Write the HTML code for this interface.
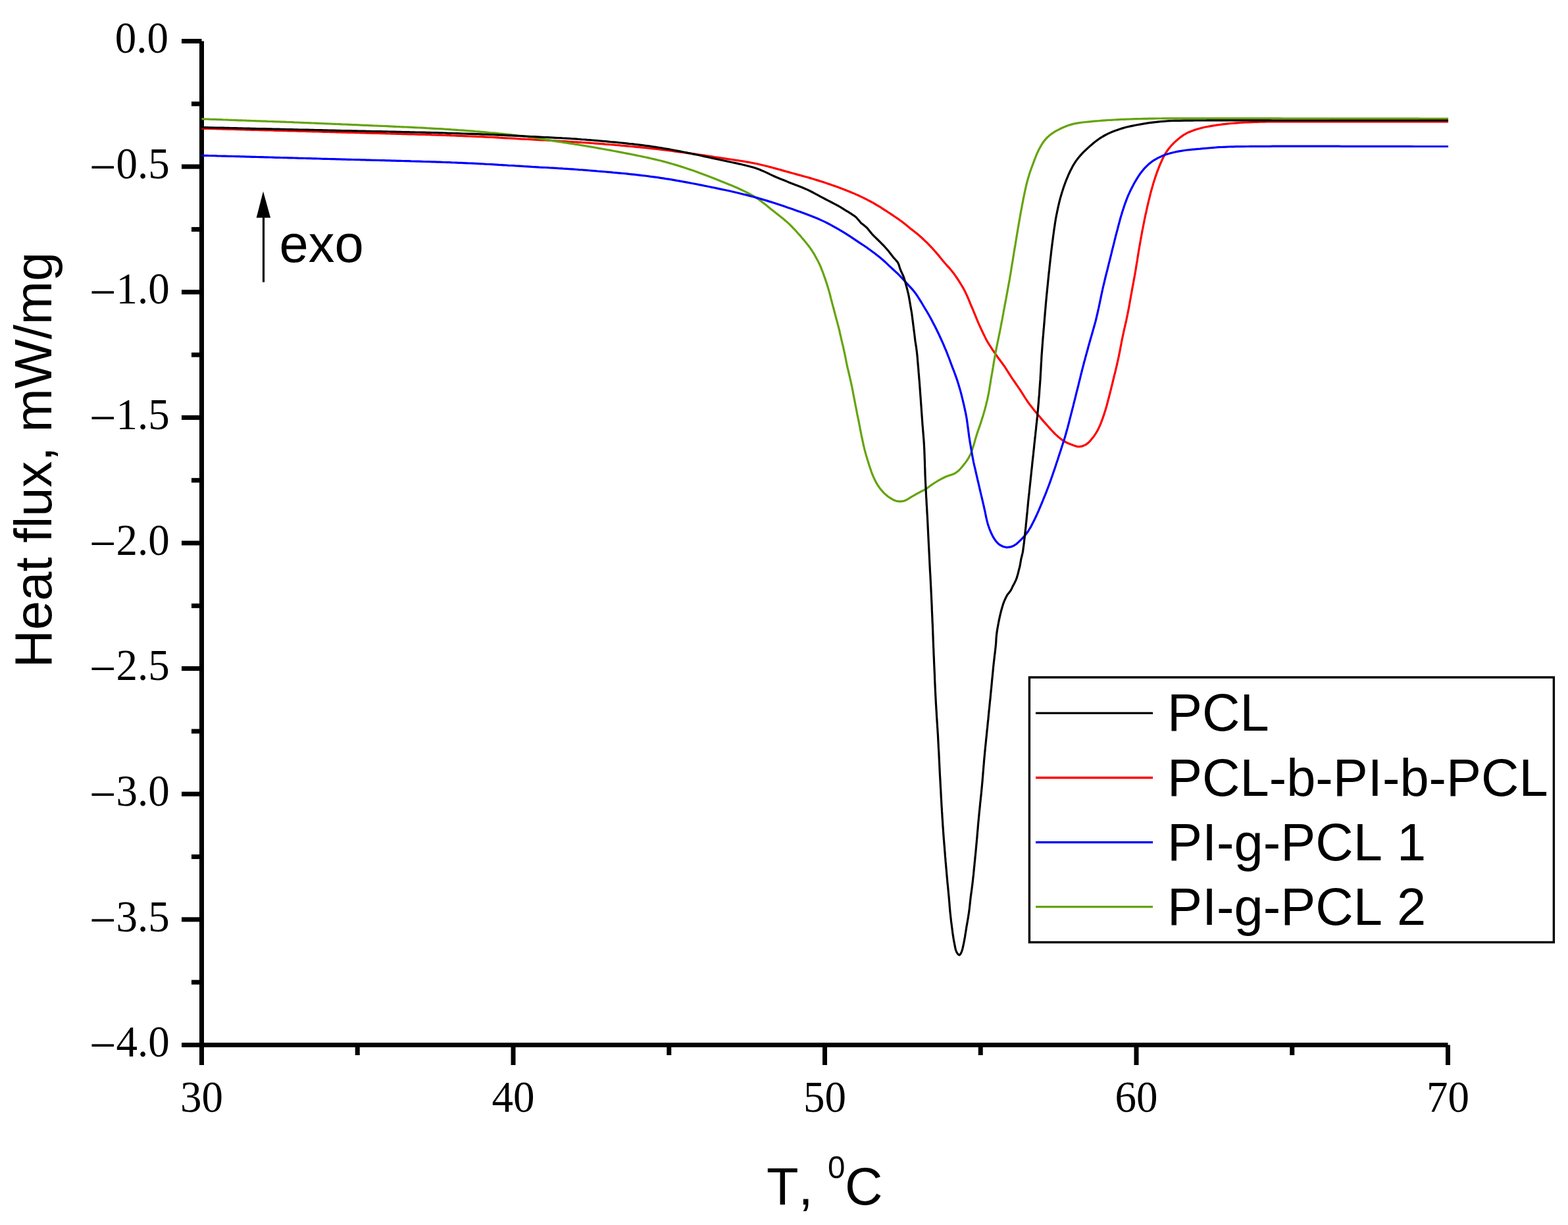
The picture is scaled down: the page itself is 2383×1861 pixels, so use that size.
<!DOCTYPE html>
<html><head><meta charset="utf-8"><title>DSC curves</title>
<style>html,body{margin:0;padding:0;background:#fff;overflow:hidden}svg{display:block;font-kerning:none}</style>
</head><body>
<svg width="2383" height="1861" viewBox="0 0 2383 1861">
<rect width="2383" height="1861" fill="#fff"/>
<line x1="306.5" y1="62.5" x2="306.5" y2="1618.0" stroke="#000" stroke-width="7"/>
<line x1="276.0" y1="1587.5" x2="2200.5" y2="1587.5" stroke="#000" stroke-width="7"/>
<line x1="276.0" y1="62.50" x2="306.5" y2="62.50" stroke="#000" stroke-width="7"/>
<line x1="291.0" y1="157.81" x2="306.5" y2="157.81" stroke="#000" stroke-width="7"/>
<line x1="276.0" y1="253.12" x2="306.5" y2="253.12" stroke="#000" stroke-width="7"/>
<line x1="291.0" y1="348.44" x2="306.5" y2="348.44" stroke="#000" stroke-width="7"/>
<line x1="276.0" y1="443.75" x2="306.5" y2="443.75" stroke="#000" stroke-width="7"/>
<line x1="291.0" y1="539.06" x2="306.5" y2="539.06" stroke="#000" stroke-width="7"/>
<line x1="276.0" y1="634.38" x2="306.5" y2="634.38" stroke="#000" stroke-width="7"/>
<line x1="291.0" y1="729.69" x2="306.5" y2="729.69" stroke="#000" stroke-width="7"/>
<line x1="276.0" y1="825.00" x2="306.5" y2="825.00" stroke="#000" stroke-width="7"/>
<line x1="291.0" y1="920.31" x2="306.5" y2="920.31" stroke="#000" stroke-width="7"/>
<line x1="276.0" y1="1015.62" x2="306.5" y2="1015.62" stroke="#000" stroke-width="7"/>
<line x1="291.0" y1="1110.94" x2="306.5" y2="1110.94" stroke="#000" stroke-width="7"/>
<line x1="276.0" y1="1206.25" x2="306.5" y2="1206.25" stroke="#000" stroke-width="7"/>
<line x1="291.0" y1="1301.56" x2="306.5" y2="1301.56" stroke="#000" stroke-width="7"/>
<line x1="276.0" y1="1396.88" x2="306.5" y2="1396.88" stroke="#000" stroke-width="7"/>
<line x1="291.0" y1="1492.19" x2="306.5" y2="1492.19" stroke="#000" stroke-width="7"/>
<line x1="276.0" y1="1587.50" x2="306.5" y2="1587.50" stroke="#000" stroke-width="7"/>
<line x1="306.50" y1="1587.5" x2="306.50" y2="1618.0" stroke="#000" stroke-width="7"/>
<line x1="543.25" y1="1587.5" x2="543.25" y2="1603.0" stroke="#000" stroke-width="7"/>
<line x1="780.00" y1="1587.5" x2="780.00" y2="1618.0" stroke="#000" stroke-width="7"/>
<line x1="1016.75" y1="1587.5" x2="1016.75" y2="1603.0" stroke="#000" stroke-width="7"/>
<line x1="1253.50" y1="1587.5" x2="1253.50" y2="1618.0" stroke="#000" stroke-width="7"/>
<line x1="1490.25" y1="1587.5" x2="1490.25" y2="1603.0" stroke="#000" stroke-width="7"/>
<line x1="1727.00" y1="1587.5" x2="1727.00" y2="1618.0" stroke="#000" stroke-width="7"/>
<line x1="1963.75" y1="1587.5" x2="1963.75" y2="1603.0" stroke="#000" stroke-width="7"/>
<line x1="2200.50" y1="1587.5" x2="2200.50" y2="1618.0" stroke="#000" stroke-width="7"/>
<path d="M306.5,195.2 L310.5,195.3 L314.6,195.4 L318.6,195.5 L322.6,195.6 L326.6,195.7 L330.7,195.9 L334.7,196.0 L338.7,196.1 L342.7,196.2 L346.8,196.3 L350.8,196.4 L354.8,196.5 L358.8,196.6 L362.8,196.7 L366.9,196.8 L370.9,196.9 L374.9,197.1 L378.9,197.2 L382.9,197.3 L387.0,197.4 L391.0,197.5 L395.0,197.6 L399.0,197.7 L403.1,197.8 L407.1,197.9 L411.1,198.0 L415.1,198.1 L419.1,198.3 L423.2,198.4 L427.2,198.5 L431.2,198.6 L435.3,198.7 L439.3,198.8 L443.3,198.9 L447.4,199.0 L451.4,199.1 L455.4,199.3 L459.5,199.4 L463.5,199.5 L467.6,199.6 L471.6,199.7 L475.7,199.8 L479.7,199.9 L483.8,200.0 L487.8,200.2 L491.9,200.3 L495.9,200.4 L500.0,200.5 L504.0,200.6 L508.0,200.7 L512.0,200.8 L516.1,201.0 L520.2,201.1 L524.3,201.2 L528.4,201.3 L532.6,201.4 L536.7,201.5 L540.9,201.6 L545.1,201.7 L549.3,201.8 L553.5,202.0 L557.7,202.1 L561.9,202.2 L566.1,202.3 L570.4,202.4 L574.6,202.5 L578.8,202.6 L583.1,202.7 L587.3,202.9 L591.5,203.0 L595.7,203.1 L599.9,203.2 L604.1,203.3 L608.3,203.4 L612.4,203.6 L616.6,203.7 L620.7,203.8 L624.8,203.9 L628.9,204.0 L632.9,204.1 L637.0,204.3 L641.0,204.4 L644.9,204.5 L648.9,204.6 L652.8,204.7 L656.7,204.9 L660.5,205.0 L664.3,205.1 L668.1,205.2 L671.8,205.4 L675.5,205.5 L679.2,205.6 L682.8,205.7 L686.3,205.9 L689.8,206.0 L693.3,206.1 L696.7,206.3 L700.0,206.4 L704.6,206.6 L709.2,206.8 L713.6,207.0 L717.9,207.2 L722.2,207.4 L726.4,207.6 L730.5,207.7 L734.5,207.9 L738.5,208.1 L742.5,208.3 L746.4,208.5 L750.2,208.7 L754.1,208.9 L757.9,209.2 L761.7,209.4 L765.4,209.6 L769.2,209.8 L773.0,210.0 L776.8,210.2 L780.6,210.4 L784.4,210.6 L788.2,210.8 L792.1,211.1 L796.0,211.3 L800.0,211.5 L804.0,211.7 L808.0,211.9 L812.0,212.2 L816.0,212.4 L820.0,212.6 L824.0,212.8 L828.0,213.0 L832.0,213.2 L836.0,213.5 L840.0,213.7 L844.0,213.9 L848.0,214.1 L852.0,214.4 L856.0,214.6 L860.0,214.8 L864.0,215.1 L868.0,215.3 L872.0,215.6 L876.0,215.8 L880.0,216.1 L884.0,216.4 L888.0,216.6 L892.0,216.9 L896.0,217.2 L900.0,217.5 L904.0,217.8 L908.0,218.1 L912.0,218.4 L916.0,218.7 L920.0,219.1 L924.0,219.4 L928.0,219.7 L932.0,220.0 L936.0,220.4 L940.0,220.7 L944.0,221.1 L948.0,221.4 L952.0,221.8 L956.0,222.2 L960.0,222.5 L964.0,222.9 L968.0,223.3 L972.0,223.7 L976.0,224.1 L980.0,224.5 L984.0,224.9 L988.0,225.4 L992.0,225.8 L996.0,226.2 L1000.0,226.7 L1004.0,227.2 L1008.1,227.7 L1012.2,228.2 L1016.4,228.7 L1020.6,229.2 L1024.8,229.8 L1029.0,230.3 L1033.2,230.9 L1037.4,231.5 L1041.7,232.1 L1045.9,232.6 L1050.1,233.2 L1054.3,233.8 L1058.4,234.4 L1062.5,235.0 L1066.6,235.6 L1070.6,236.2 L1074.5,236.8 L1078.4,237.4 L1082.2,237.9 L1085.9,238.5 L1089.6,239.0 L1093.2,239.6 L1096.6,240.1 L1100.0,240.6 L1104.8,241.3 L1109.3,242.0 L1113.7,242.6 L1118.0,243.3 L1122.1,243.9 L1126.1,244.5 L1130.1,245.1 L1134.0,245.8 L1137.9,246.4 L1141.9,247.2 L1145.9,248.0 L1150.0,248.8 L1154.2,249.7 L1158.4,250.7 L1162.5,251.7 L1166.7,252.8 L1170.9,253.9 L1175.0,255.0 L1179.2,256.1 L1183.4,257.3 L1187.5,258.4 L1191.7,259.6 L1195.8,260.7 L1200.0,261.9 L1203.9,263.0 L1207.7,264.0 L1211.6,265.1 L1215.4,266.1 L1219.3,267.2 L1223.1,268.2 L1227.0,269.3 L1230.8,270.4 L1234.7,271.5 L1238.5,272.7 L1242.3,273.9 L1246.2,275.1 L1250.0,276.3 L1253.9,277.6 L1257.9,278.9 L1261.9,280.3 L1265.9,281.7 L1269.9,283.1 L1273.9,284.6 L1277.9,286.1 L1281.8,287.5 L1285.6,289.0 L1289.4,290.5 L1293.1,292.0 L1296.6,293.4 L1300.0,294.9 L1304.2,296.7 L1308.1,298.6 L1311.9,300.4 L1315.6,302.2 L1319.2,304.1 L1322.8,306.0 L1326.4,307.9 L1330.0,310.0 L1333.9,312.3 L1337.9,314.7 L1341.9,317.3 L1345.9,319.9 L1349.8,322.5 L1353.5,324.9 L1356.9,327.2 L1360.0,329.3 L1364.3,332.2 L1368.0,334.8 L1371.7,337.5 L1375.6,340.6 L1379.5,343.7 L1383.4,346.9 L1387.3,350.0 L1391.2,353.0 L1395.2,356.3 L1398.7,359.3 L1402.2,362.5 L1405.7,365.8 L1409.2,369.2 L1412.1,372.1 L1415.0,375.2 L1417.8,378.2 L1420.6,381.3 L1423.3,384.4 L1426.3,387.9 L1429.2,391.4 L1432.0,394.9 L1435.0,398.5 L1437.8,401.7 L1440.6,404.9 L1443.6,408.2 L1446.4,411.5 L1449.1,414.9 L1451.6,418.4 L1454.1,422.0 L1456.5,425.6 L1458.7,429.1 L1460.8,432.5 L1463.4,436.9 L1465.7,441.0 L1467.9,445.4 L1469.7,449.4 L1471.5,453.5 L1473.2,457.7 L1474.9,461.8 L1476.9,466.5 L1478.9,471.2 L1480.8,475.8 L1482.8,480.6 L1484.7,485.4 L1486.6,489.9 L1488.8,494.8 L1491.1,499.9 L1492.7,503.3 L1494.5,507.0 L1496.4,510.9 L1498.4,514.9 L1500.5,518.7 L1502.9,522.7 L1505.4,526.7 L1508.1,530.8 L1510.7,534.7 L1513.4,538.6 L1516.0,542.2 L1518.6,545.8 L1521.2,549.2 L1523.8,552.7 L1526.3,556.2 L1529.0,560.3 L1531.6,564.4 L1534.1,568.4 L1536.8,572.6 L1539.3,576.3 L1541.9,580.0 L1544.5,583.8 L1547.1,587.6 L1549.7,591.4 L1552.3,595.4 L1554.8,599.4 L1557.4,603.5 L1560.0,607.5 L1562.6,611.3 L1565.1,614.7 L1567.7,618.0 L1570.2,621.3 L1572.8,624.5 L1575.5,627.7 L1578.3,631.0 L1581.1,634.3 L1583.9,637.6 L1586.7,640.9 L1589.6,644.1 L1592.4,647.2 L1595.2,650.4 L1598.0,653.5 L1600.8,656.5 L1603.6,659.3 L1606.8,662.3 L1610.0,665.1 L1613.2,667.6 L1616.5,669.9 L1620.3,672.0 L1624.1,673.8 L1628.0,675.3 L1631.9,676.8 L1635.8,678.1 L1639.6,678.6 L1645.0,677.8 L1650.1,675.6 L1653.8,672.8 L1657.4,669.1 L1660.7,665.1 L1663.1,661.9 L1665.3,658.5 L1667.5,654.9 L1669.5,651.0 L1671.1,647.6 L1672.7,643.9 L1674.1,640.1 L1675.6,636.1 L1677.0,632.1 L1678.3,628.2 L1679.6,624.2 L1680.8,620.1 L1682.0,616.0 L1683.1,611.9 L1684.2,607.7 L1685.3,603.5 L1686.3,599.6 L1687.3,595.6 L1688.3,591.6 L1689.3,587.6 L1690.3,583.6 L1691.3,579.5 L1692.3,575.4 L1693.3,571.2 L1694.4,567.0 L1695.4,562.8 L1696.4,558.5 L1697.4,554.3 L1698.4,549.9 L1699.4,545.5 L1700.3,541.2 L1701.2,536.9 L1702.1,532.4 L1702.9,528.0 L1703.8,523.5 L1704.6,519.0 L1705.5,514.6 L1706.4,510.3 L1707.3,506.3 L1708.1,502.4 L1709.0,498.5 L1709.9,494.6 L1710.8,490.7 L1711.7,486.8 L1712.5,482.8 L1713.4,478.7 L1714.2,474.5 L1715.1,470.2 L1715.9,465.8 L1716.7,461.3 L1717.5,456.8 L1718.3,452.4 L1719.0,448.1 L1719.8,444.0 L1720.5,440.0 L1721.3,435.6 L1722.1,431.6 L1722.8,427.7 L1723.5,423.8 L1724.3,419.6 L1725.1,415.0 L1725.7,411.6 L1726.3,407.9 L1726.9,404.0 L1727.6,400.0 L1728.3,395.9 L1728.9,391.7 L1729.6,387.4 L1730.3,383.0 L1731.0,378.7 L1731.8,374.4 L1732.5,370.2 L1733.2,366.2 L1733.9,362.2 L1734.7,358.0 L1735.4,353.9 L1736.2,349.8 L1737.0,345.7 L1737.8,341.7 L1738.6,337.7 L1739.4,333.7 L1740.2,329.8 L1741.0,325.9 L1741.9,322.1 L1742.7,318.3 L1743.6,314.2 L1744.6,310.1 L1745.5,306.1 L1746.5,302.1 L1747.5,298.2 L1748.4,294.3 L1749.4,290.5 L1750.5,286.8 L1751.5,283.1 L1752.9,278.4 L1754.3,273.9 L1755.7,269.5 L1757.2,265.2 L1758.7,260.9 L1760.3,256.7 L1761.9,252.7 L1763.6,248.7 L1765.3,244.8 L1767.0,240.9 L1768.9,237.3 L1770.8,233.9 L1773.2,230.0 L1775.7,226.5 L1778.4,223.2 L1781.4,219.8 L1784.1,217.1 L1787.2,214.2 L1790.4,211.4 L1793.7,208.8 L1796.9,206.4 L1800.0,204.3 L1804.5,201.8 L1808.9,200.0 L1813.3,198.3 L1817.6,196.8 L1821.9,195.5 L1826.7,194.2 L1830.6,193.3 L1834.9,192.5 L1839.5,191.7 L1844.1,190.9 L1848.8,190.2 L1853.4,189.5 L1857.8,188.9 L1862.3,188.4 L1866.7,187.9 L1871.1,187.5 L1875.6,187.2 L1880.0,186.8 L1884.4,186.5 L1888.7,186.2 L1893.0,186.0 L1897.4,185.8 L1902.0,185.6 L1906.8,185.4 L1910.5,185.3 L1914.2,185.2 L1917.9,185.1 L1921.6,185.1 L1925.5,185.0 L1929.7,185.0 L1934.1,185.0 L1938.9,185.0 L1944.2,184.9 L1950.0,184.9 L1952.4,184.9 L1955.0,184.9 L1957.6,184.9 L1960.3,184.9 L1963.2,184.8 L1966.1,184.8 L1969.1,184.8 L1972.2,184.8 L1975.4,184.8 L1978.7,184.8 L1982.1,184.8 L1985.5,184.8 L1989.0,184.8 L1992.6,184.8 L1996.3,184.8 L2000.0,184.8 L2003.8,184.8 L2007.7,184.8 L2011.6,184.8 L2015.6,184.8 L2019.6,184.8 L2023.7,184.8 L2027.9,184.8 L2032.1,184.8 L2036.3,184.8 L2040.6,184.8 L2044.9,184.8 L2049.3,184.8 L2053.6,184.8 L2058.1,184.8 L2062.5,184.8 L2067.0,184.8 L2071.5,184.8 L2076.0,184.9 L2080.6,184.9 L2085.1,184.9 L2089.7,184.9 L2094.3,184.9 L2098.9,184.9 L2103.5,184.9 L2108.1,184.9 L2112.7,184.9 L2117.3,184.9 L2121.9,184.9 L2126.5,184.9 L2131.1,184.9 L2135.7,184.9 L2140.2,184.9 L2144.8,184.9 L2149.3,185.0 L2153.8,185.0 L2158.3,185.0 L2162.7,185.0 L2167.1,185.0 L2171.5,185.0 L2175.8,185.0 L2180.1,185.0 L2184.4,185.0 L2188.6,185.0 L2192.8,185.0 L2196.9,185.0 L2201.0,185.0" fill="none" stroke="#ff0000" stroke-width="3.2" stroke-linejoin="round"/>
<path d="M306.5,180.7 L310.5,180.9 L314.6,181.0 L318.6,181.2 L322.6,181.3 L326.6,181.4 L330.7,181.6 L334.7,181.7 L338.7,181.9 L342.7,182.0 L346.8,182.2 L350.8,182.3 L354.8,182.5 L358.8,182.6 L362.8,182.8 L366.9,182.9 L370.9,183.0 L374.9,183.2 L378.9,183.3 L382.9,183.5 L387.0,183.6 L391.0,183.8 L395.0,183.9 L399.0,184.1 L403.1,184.2 L407.1,184.4 L411.1,184.5 L415.1,184.6 L419.2,184.8 L423.2,184.9 L427.2,185.1 L431.2,185.2 L435.3,185.4 L439.3,185.5 L443.3,185.7 L447.4,185.9 L451.4,186.0 L455.4,186.2 L459.5,186.3 L463.5,186.5 L467.6,186.6 L471.6,186.8 L475.7,187.0 L479.7,187.1 L483.8,187.3 L487.8,187.5 L491.9,187.7 L495.9,187.8 L500.0,188.0 L504.0,188.2 L508.0,188.3 L512.0,188.5 L516.1,188.7 L520.2,188.9 L524.3,189.0 L528.4,189.2 L532.6,189.4 L536.7,189.6 L540.9,189.7 L545.1,189.9 L549.3,190.1 L553.5,190.3 L557.7,190.4 L561.9,190.6 L566.2,190.8 L570.4,191.0 L574.6,191.2 L578.8,191.3 L583.1,191.5 L587.3,191.7 L591.5,191.9 L595.7,192.1 L599.9,192.3 L604.1,192.5 L608.3,192.7 L612.4,192.8 L616.6,193.0 L620.7,193.2 L624.8,193.4 L628.9,193.6 L632.9,193.8 L637.0,194.0 L641.0,194.2 L645.0,194.4 L648.9,194.7 L652.8,194.9 L656.7,195.1 L660.5,195.3 L664.4,195.5 L668.1,195.7 L671.9,195.9 L675.5,196.2 L679.2,196.4 L682.8,196.6 L686.3,196.9 L689.8,197.1 L693.3,197.3 L696.7,197.6 L700.0,197.8 L704.7,198.1 L709.3,198.5 L713.9,198.9 L718.4,199.2 L722.8,199.6 L727.2,199.9 L731.6,200.3 L735.9,200.7 L740.1,201.1 L744.3,201.5 L748.5,201.8 L752.6,202.2 L756.6,202.6 L760.5,203.0 L764.4,203.4 L768.3,203.8 L772.1,204.2 L775.8,204.6 L779.4,205.0 L783.0,205.4 L786.6,205.9 L790.0,206.3 L793.4,206.7 L796.7,207.1 L800.0,207.5 L804.8,208.1 L809.4,208.8 L813.7,209.4 L817.9,210.1 L821.9,210.7 L825.9,211.4 L829.8,212.1 L833.7,212.7 L837.7,213.4 L841.7,214.1 L846.0,214.8 L850.0,215.4 L853.9,216.0 L857.8,216.6 L861.8,217.2 L865.7,217.8 L869.7,218.4 L873.7,219.1 L877.8,219.7 L882.0,220.4 L886.3,221.1 L890.8,221.8 L895.3,222.6 L900.0,223.4 L903.5,224.0 L907.1,224.7 L910.8,225.3 L914.7,226.0 L918.6,226.7 L922.7,227.5 L926.8,228.2 L931.0,229.0 L935.2,229.8 L939.5,230.6 L943.8,231.4 L948.1,232.2 L952.5,233.1 L956.8,233.9 L961.1,234.8 L965.3,235.6 L969.5,236.5 L973.7,237.3 L977.8,238.2 L981.8,239.0 L985.7,239.9 L989.4,240.7 L993.1,241.6 L996.6,242.4 L1000.0,243.2 L1004.4,244.3 L1008.7,245.4 L1012.8,246.5 L1016.7,247.6 L1020.6,248.7 L1024.3,249.8 L1028.0,250.9 L1031.6,252.0 L1035.2,253.1 L1038.9,254.3 L1042.5,255.5 L1046.2,256.7 L1050.0,258.0 L1053.9,259.3 L1057.9,260.7 L1061.9,262.2 L1065.9,263.7 L1070.0,265.2 L1074.0,266.7 L1078.0,268.3 L1081.9,269.8 L1085.8,271.3 L1089.5,272.8 L1093.1,274.2 L1096.7,275.7 L1100.0,277.0 L1104.4,278.8 L1108.6,280.5 L1112.6,282.1 L1116.4,283.7 L1120.1,285.3 L1123.8,287.0 L1127.5,288.7 L1131.4,290.6 L1135.2,292.5 L1138.9,294.5 L1142.6,296.5 L1146.3,298.7 L1150.0,301.0 L1153.6,303.4 L1157.1,306.1 L1160.7,308.8 L1164.3,311.6 L1167.9,314.5 L1171.4,317.4 L1175.0,320.3 L1178.2,322.8 L1181.3,325.3 L1184.5,327.8 L1187.7,330.3 L1190.8,332.8 L1193.9,335.4 L1197.0,338.1 L1200.0,340.9 L1203.1,344.0 L1206.3,347.3 L1209.5,350.7 L1212.6,354.2 L1215.7,357.6 L1218.5,361.0 L1221.2,364.1 L1223.6,367.0 L1226.4,370.4 L1228.9,373.5 L1231.2,376.6 L1233.5,380.0 L1235.8,383.6 L1238.1,387.4 L1240.3,391.4 L1242.5,395.4 L1244.5,399.4 L1246.3,403.2 L1247.9,407.1 L1249.4,410.9 L1250.9,414.8 L1252.3,418.7 L1253.7,422.6 L1255.0,426.4 L1256.3,430.3 L1257.5,434.2 L1258.7,438.1 L1260.1,442.9 L1261.4,447.7 L1262.6,452.6 L1263.9,457.4 L1264.9,461.3 L1265.9,465.2 L1267.0,469.0 L1268.0,472.9 L1269.0,476.8 L1270.3,481.6 L1271.6,486.4 L1272.9,491.3 L1274.2,496.1 L1275.4,500.9 L1276.5,505.8 L1277.6,510.7 L1278.7,515.5 L1279.8,520.3 L1281.0,525.1 L1282.1,530.0 L1283.2,534.8 L1284.2,539.6 L1285.2,544.5 L1286.1,549.4 L1287.1,554.2 L1288.2,559.1 L1289.4,564.0 L1290.5,568.9 L1291.6,573.5 L1292.7,578.4 L1293.8,583.1 L1294.8,588.0 L1295.7,592.3 L1296.5,596.8 L1297.4,601.4 L1298.3,606.0 L1299.2,610.7 L1300.1,615.5 L1301.1,620.2 L1302.0,625.0 L1302.9,629.8 L1303.9,634.5 L1304.9,639.3 L1305.8,644.0 L1306.7,648.5 L1307.5,652.9 L1308.4,657.4 L1309.3,662.0 L1310.2,666.1 L1311.1,670.4 L1312.0,674.6 L1313.0,678.9 L1314.0,683.1 L1315.1,687.1 L1316.2,691.1 L1317.4,695.1 L1318.6,699.1 L1319.8,703.0 L1321.3,707.8 L1322.9,712.6 L1324.5,717.3 L1326.3,721.8 L1328.0,725.8 L1329.9,729.7 L1331.8,733.4 L1333.9,737.0 L1336.8,741.2 L1340.0,745.2 L1343.3,748.8 L1346.3,751.6 L1349.5,754.2 L1352.7,756.4 L1357.2,759.2 L1362.0,761.1 L1367.8,761.8 L1373.8,761.1 L1377.7,759.5 L1381.5,757.1 L1385.5,754.6 L1389.1,752.6 L1393.0,750.4 L1396.7,748.4 L1400.0,746.6 L1403.5,744.8 L1407.0,743.0 L1410.9,740.3 L1415.1,737.1 L1419.6,734.0 L1422.9,732.0 L1426.4,729.9 L1430.0,727.9 L1433.7,726.0 L1437.2,724.3 L1441.3,722.7 L1445.4,721.4 L1449.4,720.0 L1453.0,718.1 L1456.8,715.1 L1460.2,711.5 L1463.5,707.6 L1466.3,704.1 L1469.0,700.4 L1471.6,696.4 L1474.1,691.8 L1475.7,688.3 L1477.1,684.4 L1478.5,680.2 L1479.9,675.8 L1481.2,671.4 L1482.4,666.9 L1483.7,662.7 L1485.0,658.6 L1486.5,654.0 L1488.1,649.6 L1489.6,645.2 L1491.0,640.9 L1492.4,636.6 L1493.8,632.2 L1495.1,627.9 L1496.3,623.6 L1497.5,619.3 L1498.6,614.9 L1499.7,610.4 L1500.8,605.8 L1501.7,601.7 L1502.5,597.4 L1503.3,593.0 L1504.0,588.6 L1504.8,584.1 L1505.5,579.6 L1506.2,575.1 L1507.0,570.7 L1507.8,566.3 L1508.5,561.9 L1509.3,557.5 L1510.0,553.1 L1510.7,548.7 L1511.5,544.3 L1512.3,539.9 L1513.1,535.5 L1513.9,531.1 L1514.8,526.7 L1515.7,522.3 L1516.6,517.9 L1517.5,513.5 L1518.4,509.1 L1519.3,504.7 L1520.2,500.3 L1521.0,496.3 L1521.7,492.3 L1522.5,488.2 L1523.3,484.2 L1524.0,480.1 L1524.8,476.1 L1525.5,472.0 L1526.3,468.0 L1527.0,464.0 L1527.8,459.6 L1528.7,455.2 L1529.5,450.8 L1530.3,446.5 L1531.1,442.1 L1531.9,437.7 L1532.7,433.4 L1533.5,429.0 L1534.3,424.6 L1535.0,420.2 L1535.8,415.8 L1536.5,411.4 L1537.2,407.0 L1537.9,402.6 L1538.7,398.2 L1539.4,393.8 L1540.1,389.4 L1540.8,385.1 L1541.5,380.8 L1542.2,376.4 L1543.0,372.1 L1543.7,367.7 L1544.4,363.2 L1545.2,358.6 L1545.8,354.8 L1546.5,350.9 L1547.1,347.0 L1547.8,343.0 L1548.5,339.0 L1549.2,335.0 L1549.9,330.9 L1550.6,326.9 L1551.3,322.9 L1552.1,318.9 L1552.8,315.0 L1553.6,310.8 L1554.4,306.6 L1555.2,302.4 L1556.1,298.2 L1556.9,294.0 L1557.8,289.8 L1558.7,285.8 L1559.6,281.8 L1560.5,278.0 L1561.5,274.3 L1562.9,269.5 L1564.3,264.9 L1565.7,260.5 L1567.2,256.2 L1568.8,252.0 L1570.3,247.9 L1572.0,243.4 L1573.7,239.0 L1575.4,234.7 L1577.2,230.7 L1579.1,226.8 L1581.2,223.0 L1583.3,219.3 L1585.5,216.0 L1587.9,212.8 L1591.1,209.3 L1594.6,206.1 L1598.5,203.1 L1602.1,200.7 L1606.0,198.4 L1610.1,196.3 L1614.3,194.3 L1618.5,192.5 L1622.7,190.8 L1627.2,189.4 L1631.9,188.1 L1635.9,187.3 L1640.1,186.6 L1644.5,186.0 L1649.0,185.5 L1653.6,185.1 L1658.3,184.6 L1662.4,184.2 L1666.5,183.8 L1670.8,183.5 L1675.1,183.1 L1679.5,182.8 L1684.0,182.5 L1688.6,182.3 L1693.4,182.0 L1697.1,181.8 L1700.9,181.6 L1704.8,181.4 L1708.8,181.3 L1712.9,181.1 L1717.0,181.0 L1721.2,180.8 L1725.4,180.7 L1729.6,180.6 L1733.8,180.5 L1737.9,180.4 L1742.1,180.3 L1746.2,180.2 L1750.2,180.1 L1753.9,180.1 L1757.6,180.0 L1761.1,180.0 L1764.6,180.0 L1768.1,179.9 L1771.8,179.9 L1775.6,179.9 L1779.7,179.9 L1784.2,179.9 L1789.0,179.9 L1794.2,179.9 L1800.0,179.9 L1802.2,179.9 L1804.4,179.9 L1806.8,179.9 L1809.2,179.9 L1811.7,179.9 L1814.2,179.9 L1816.8,179.9 L1819.5,179.9 L1822.2,179.9 L1825.0,179.9 L1827.9,179.9 L1830.8,179.9 L1833.8,179.9 L1836.9,179.9 L1840.0,179.9 L1843.2,179.9 L1846.4,179.9 L1849.7,179.9 L1853.0,179.9 L1856.4,179.9 L1859.8,179.9 L1863.3,179.9 L1866.9,179.9 L1870.5,179.9 L1874.1,179.9 L1877.8,179.9 L1881.5,179.9 L1885.3,179.9 L1889.1,179.9 L1893.0,179.9 L1896.9,179.9 L1900.8,179.9 L1904.8,179.9 L1908.8,179.9 L1912.8,179.9 L1916.9,179.9 L1921.1,179.9 L1925.2,179.9 L1929.4,179.9 L1933.6,179.9 L1937.9,179.9 L1942.1,179.9 L1946.4,179.9 L1950.8,180.0 L1955.1,180.0 L1959.5,180.0 L1963.9,180.0 L1968.3,180.0 L1972.8,180.0 L1977.3,180.0 L1981.7,180.0 L1986.2,180.0 L1990.8,180.0 L1995.3,180.0 L1999.8,180.0 L2004.4,180.0 L2009.0,180.0 L2013.6,180.0 L2018.1,180.0 L2022.7,180.1 L2027.4,180.1 L2032.0,180.1 L2036.6,180.1 L2041.2,180.1 L2045.8,180.1 L2050.5,180.1 L2055.1,180.1 L2059.7,180.1 L2064.4,180.1 L2069.0,180.1 L2073.6,180.1 L2078.2,180.1 L2082.8,180.1 L2087.4,180.2 L2092.0,180.2 L2096.6,180.2 L2101.2,180.2 L2105.8,180.2 L2110.3,180.2 L2114.8,180.2 L2119.4,180.2 L2123.9,180.2 L2128.4,180.2 L2132.8,180.2 L2137.3,180.2 L2141.7,180.2 L2146.1,180.2 L2150.5,180.2 L2154.9,180.2 L2159.2,180.3 L2163.5,180.3 L2167.8,180.3 L2172.1,180.3 L2176.3,180.3 L2180.5,180.3 L2184.7,180.3 L2188.8,180.3 L2192.9,180.3 L2197.0,180.3 L2201.0,180.3" fill="none" stroke="#64a40e" stroke-width="3.2" stroke-linejoin="round"/>
<path d="M306.5,236.2 L310.5,236.3 L314.6,236.4 L318.6,236.5 L322.6,236.6 L326.6,236.7 L330.7,236.9 L334.7,237.0 L338.7,237.1 L342.7,237.2 L346.8,237.3 L350.8,237.4 L354.8,237.5 L358.8,237.6 L362.8,237.7 L366.9,237.8 L370.9,237.9 L374.9,238.1 L378.9,238.2 L382.9,238.3 L387.0,238.4 L391.0,238.5 L395.0,238.6 L399.0,238.7 L403.1,238.8 L407.1,238.9 L411.1,239.0 L415.1,239.1 L419.1,239.3 L423.2,239.4 L427.2,239.5 L431.2,239.6 L435.3,239.7 L439.3,239.8 L443.3,239.9 L447.4,240.0 L451.4,240.1 L455.4,240.3 L459.5,240.4 L463.5,240.5 L467.6,240.6 L471.6,240.7 L475.7,240.8 L479.7,240.9 L483.8,241.0 L487.8,241.2 L491.9,241.3 L495.9,241.4 L500.0,241.5 L504.0,241.6 L508.0,241.7 L512.0,241.8 L516.1,241.9 L520.2,242.1 L524.3,242.2 L528.4,242.3 L532.6,242.4 L536.7,242.5 L540.9,242.6 L545.1,242.7 L549.3,242.8 L553.5,242.9 L557.7,243.1 L561.9,243.2 L566.1,243.3 L570.4,243.4 L574.6,243.5 L578.8,243.6 L583.1,243.7 L587.3,243.8 L591.5,243.9 L595.7,244.1 L599.9,244.2 L604.1,244.3 L608.3,244.4 L612.4,244.5 L616.6,244.6 L620.7,244.7 L624.8,244.9 L628.9,245.0 L632.9,245.1 L637.0,245.2 L641.0,245.3 L644.9,245.5 L648.9,245.6 L652.8,245.7 L656.7,245.8 L660.5,245.9 L664.3,246.1 L668.1,246.2 L671.8,246.3 L675.5,246.5 L679.2,246.6 L682.8,246.7 L686.3,246.9 L689.8,247.0 L693.3,247.1 L696.7,247.3 L700.0,247.4 L704.6,247.6 L709.2,247.8 L713.6,248.0 L717.9,248.2 L722.2,248.4 L726.4,248.6 L730.5,248.8 L734.5,249.0 L738.5,249.3 L742.5,249.5 L746.4,249.7 L750.2,249.9 L754.1,250.1 L757.9,250.4 L761.7,250.6 L765.4,250.8 L769.2,251.0 L773.0,251.3 L776.8,251.5 L780.6,251.7 L784.4,252.0 L788.2,252.2 L792.1,252.4 L796.0,252.7 L800.0,252.9 L804.0,253.1 L808.0,253.4 L812.0,253.6 L816.0,253.8 L820.0,254.1 L824.0,254.3 L828.0,254.5 L832.0,254.7 L836.0,255.0 L840.0,255.2 L844.0,255.4 L848.0,255.7 L852.0,255.9 L856.0,256.2 L860.0,256.4 L864.0,256.7 L868.0,256.9 L872.0,257.2 L876.0,257.5 L880.0,257.8 L884.0,258.0 L888.0,258.3 L892.0,258.7 L896.0,259.0 L900.0,259.3 L904.0,259.6 L908.0,260.0 L912.0,260.3 L916.0,260.7 L920.0,261.0 L924.0,261.3 L928.0,261.7 L932.0,262.1 L936.0,262.4 L940.0,262.8 L944.0,263.2 L948.0,263.5 L952.0,263.9 L956.0,264.4 L960.0,264.8 L964.0,265.2 L968.0,265.6 L972.0,266.1 L976.0,266.6 L980.0,267.0 L984.0,267.5 L988.0,268.1 L992.0,268.6 L996.0,269.1 L1000.0,269.7 L1004.0,270.3 L1008.1,270.9 L1012.2,271.6 L1016.4,272.2 L1020.6,272.9 L1024.8,273.6 L1029.0,274.4 L1033.3,275.1 L1037.5,275.9 L1041.7,276.6 L1045.9,277.4 L1050.1,278.2 L1054.3,279.0 L1058.4,279.8 L1062.5,280.6 L1066.6,281.4 L1070.6,282.2 L1074.5,283.0 L1078.4,283.8 L1082.2,284.6 L1086.0,285.3 L1089.6,286.1 L1093.2,286.9 L1096.6,287.6 L1100.0,288.3 L1104.8,289.3 L1109.4,290.3 L1113.7,291.3 L1118.0,292.3 L1122.1,293.2 L1126.1,294.2 L1130.1,295.2 L1134.0,296.1 L1137.9,297.1 L1141.9,298.2 L1145.9,299.3 L1150.0,300.4 L1153.9,301.5 L1157.7,302.6 L1161.6,303.7 L1165.4,304.9 L1169.3,306.1 L1173.1,307.3 L1177.0,308.5 L1180.8,309.7 L1184.7,311.0 L1188.5,312.3 L1192.3,313.6 L1196.2,314.9 L1200.0,316.2 L1203.9,317.6 L1207.9,319.0 L1211.9,320.4 L1215.9,321.8 L1219.9,323.3 L1223.9,324.8 L1227.9,326.3 L1231.8,327.8 L1235.6,329.3 L1239.4,330.8 L1243.1,332.3 L1246.6,333.9 L1250.0,335.4 L1254.3,337.4 L1258.4,339.5 L1262.5,341.6 L1266.4,343.8 L1270.1,345.9 L1273.7,347.9 L1277.0,349.8 L1280.0,351.6 L1284.5,354.4 L1288.4,356.9 L1292.3,359.4 L1296.4,362.1 L1300.5,364.9 L1304.6,367.6 L1308.7,370.3 L1312.8,373.0 L1316.9,375.8 L1321.0,378.7 L1325.1,381.7 L1329.2,384.8 L1333.4,388.0 L1337.5,391.3 L1341.6,394.7 L1344.7,397.5 L1347.8,400.4 L1350.8,403.3 L1353.9,406.2 L1357.0,409.0 L1360.1,411.9 L1363.2,414.7 L1366.2,417.7 L1369.3,420.9 L1372.4,424.1 L1375.5,427.5 L1378.5,430.8 L1381.7,434.3 L1385.0,437.9 L1388.1,441.4 L1390.8,444.8 L1394.1,449.5 L1397.0,454.1 L1399.4,457.9 L1401.7,461.8 L1404.1,465.8 L1406.4,469.7 L1408.8,473.5 L1411.1,477.5 L1413.5,481.7 L1415.8,486.0 L1418.1,490.4 L1420.5,495.0 L1422.9,499.7 L1425.2,504.5 L1427.0,508.2 L1428.7,512.0 L1430.5,515.8 L1432.2,519.7 L1434.0,523.7 L1435.7,527.8 L1437.5,531.9 L1439.2,536.1 L1440.6,539.8 L1442.1,543.5 L1443.5,547.3 L1444.9,551.1 L1446.3,554.9 L1448.1,559.6 L1449.9,564.2 L1451.6,568.9 L1453.3,573.6 L1454.9,578.3 L1456.4,583.0 L1457.8,587.7 L1459.2,592.4 L1460.5,597.1 L1461.6,601.7 L1462.8,606.4 L1463.9,611.2 L1464.9,615.2 L1465.8,619.3 L1466.7,623.4 L1467.6,627.7 L1468.5,632.3 L1469.2,636.3 L1469.8,640.4 L1470.4,644.8 L1471.0,649.3 L1471.6,653.8 L1472.2,658.4 L1472.8,663.0 L1473.5,667.4 L1474.2,671.9 L1475.0,676.6 L1475.8,681.3 L1476.6,686.0 L1477.4,690.6 L1478.2,694.9 L1479.0,699.0 L1479.7,702.6 L1480.8,707.5 L1481.8,711.7 L1482.9,716.4 L1483.8,720.3 L1484.8,724.6 L1485.8,729.1 L1486.9,733.7 L1488.0,738.3 L1489.0,742.8 L1490.0,747.2 L1491.0,751.5 L1492.1,755.8 L1493.1,760.2 L1494.1,764.6 L1495.2,769.1 L1496.1,773.3 L1497.1,777.7 L1498.0,782.2 L1498.9,786.6 L1499.9,790.9 L1501.0,795.1 L1502.2,799.0 L1503.7,803.3 L1505.4,807.5 L1507.2,811.5 L1509.0,815.1 L1511.0,818.4 L1513.7,822.2 L1516.6,825.4 L1519.8,828.0 L1524.9,830.5 L1530.4,831.6 L1535.7,830.9 L1540.9,828.9 L1544.6,826.5 L1548.1,823.4 L1551.5,820.1 L1554.2,817.3 L1556.9,814.4 L1559.4,811.3 L1562.0,807.8 L1564.1,804.5 L1566.3,800.9 L1568.3,797.0 L1570.4,793.0 L1572.4,789.0 L1574.3,785.0 L1576.2,780.9 L1578.0,776.8 L1579.8,772.6 L1581.6,768.4 L1583.3,764.3 L1584.9,760.3 L1586.6,756.1 L1588.3,752.1 L1589.9,748.1 L1591.4,744.1 L1593.0,740.0 L1594.6,735.7 L1596.2,731.4 L1597.7,727.0 L1599.3,722.5 L1600.9,717.8 L1602.2,714.1 L1603.5,710.3 L1604.8,706.3 L1606.1,702.2 L1607.5,698.2 L1608.8,694.1 L1610.1,690.1 L1611.4,686.2 L1612.7,682.1 L1614.0,678.1 L1615.3,674.1 L1616.5,670.2 L1617.8,666.2 L1619.0,662.2 L1620.2,658.0 L1621.3,654.0 L1622.5,649.9 L1623.6,645.7 L1624.7,641.5 L1625.7,637.3 L1626.8,633.1 L1627.9,628.8 L1629.0,624.6 L1630.0,620.7 L1631.0,616.9 L1631.9,613.0 L1632.9,609.1 L1633.9,605.2 L1634.9,601.2 L1635.8,597.3 L1636.8,593.4 L1637.8,589.5 L1638.8,585.6 L1639.7,581.7 L1640.7,577.8 L1641.7,573.9 L1642.6,569.9 L1643.6,566.0 L1644.6,562.1 L1645.6,558.2 L1646.6,554.3 L1647.6,550.4 L1648.7,546.5 L1649.7,542.6 L1650.8,538.6 L1651.9,534.7 L1653.0,530.8 L1654.0,526.9 L1655.1,523.0 L1656.2,519.1 L1657.3,515.2 L1658.4,511.4 L1659.5,507.6 L1660.6,503.7 L1661.7,499.9 L1662.8,496.0 L1663.9,492.1 L1665.0,488.1 L1666.0,484.0 L1666.9,480.1 L1667.9,476.0 L1668.8,471.8 L1669.8,467.5 L1670.7,463.1 L1671.6,458.8 L1672.5,454.6 L1673.3,450.6 L1674.1,446.8 L1674.9,443.2 L1675.6,440.0 L1676.6,435.5 L1677.5,431.8 L1678.4,428.1 L1679.4,423.8 L1680.2,420.5 L1681.1,416.9 L1682.1,413.1 L1683.1,409.1 L1684.1,405.0 L1685.1,400.8 L1686.2,396.7 L1687.2,392.6 L1688.2,388.6 L1689.2,384.7 L1690.1,380.7 L1691.1,376.8 L1692.1,372.8 L1693.1,368.9 L1694.0,365.0 L1695.0,361.1 L1696.0,357.2 L1697.0,353.4 L1698.1,349.3 L1699.1,345.3 L1700.2,341.2 L1701.3,337.2 L1702.3,333.3 L1703.4,329.4 L1704.6,325.5 L1705.7,321.8 L1707.1,317.5 L1708.5,313.3 L1709.9,309.1 L1711.4,305.1 L1712.9,301.1 L1714.5,297.2 L1716.5,292.8 L1718.5,288.4 L1720.7,284.2 L1722.9,280.1 L1725.1,276.1 L1727.6,271.9 L1730.1,267.8 L1732.7,264.0 L1735.6,260.2 L1738.8,256.4 L1742.2,252.8 L1745.9,249.3 L1749.7,246.2 L1753.0,243.9 L1756.5,241.8 L1760.0,239.9 L1763.7,238.1 L1767.3,236.5 L1771.7,234.8 L1776.1,233.5 L1780.6,232.3 L1784.9,231.2 L1789.8,230.1 L1794.7,229.3 L1800.0,228.5 L1803.5,228.0 L1807.4,227.6 L1811.4,227.2 L1815.5,226.8 L1819.7,226.4 L1823.9,226.1 L1828.0,225.7 L1832.0,225.3 L1835.9,225.0 L1839.8,224.7 L1843.7,224.3 L1847.7,224.0 L1851.8,223.7 L1856.0,223.5 L1859.8,223.3 L1863.5,223.2 L1867.1,223.0 L1870.9,222.9 L1874.8,222.8 L1879.0,222.7 L1883.7,222.7 L1889.0,222.6 L1895.0,222.5 L1897.2,222.5 L1899.4,222.4 L1901.8,222.4 L1904.3,222.4 L1906.8,222.4 L1909.4,222.4 L1912.2,222.3 L1915.0,222.3 L1917.9,222.3 L1920.9,222.3 L1923.9,222.3 L1927.1,222.3 L1930.3,222.3 L1933.6,222.2 L1937.0,222.2 L1940.4,222.2 L1943.9,222.2 L1947.5,222.2 L1951.1,222.2 L1954.8,222.2 L1958.6,222.2 L1962.4,222.2 L1966.3,222.2 L1970.2,222.2 L1974.2,222.2 L1978.2,222.2 L1982.3,222.2 L1986.4,222.2 L1990.6,222.2 L1994.8,222.2 L1999.1,222.2 L2003.4,222.2 L2007.7,222.2 L2012.1,222.2 L2016.5,222.2 L2020.9,222.2 L2025.4,222.2 L2029.9,222.2 L2034.4,222.2 L2038.9,222.3 L2043.5,222.3 L2048.1,222.3 L2052.7,222.3 L2057.3,222.3 L2061.9,222.3 L2066.5,222.3 L2071.2,222.3 L2075.8,222.3 L2080.5,222.3 L2085.2,222.3 L2089.8,222.4 L2094.5,222.4 L2099.1,222.4 L2103.8,222.4 L2108.4,222.4 L2113.1,222.4 L2117.7,222.4 L2122.3,222.4 L2126.9,222.4 L2131.5,222.4 L2136.1,222.4 L2140.6,222.4 L2145.1,222.4 L2149.6,222.5 L2154.1,222.5 L2158.6,222.5 L2163.0,222.5 L2167.4,222.5 L2171.7,222.5 L2176.0,222.5 L2180.3,222.5 L2184.5,222.5 L2188.7,222.5 L2192.8,222.5 L2196.9,222.5 L2201.0,222.5" fill="none" stroke="#0000ff" stroke-width="3.2" stroke-linejoin="round"/>
<path d="M306.5,193.5 L310.5,193.6 L314.6,193.7 L318.6,193.8 L322.6,193.9 L326.6,194.0 L330.7,194.1 L334.7,194.2 L338.7,194.2 L342.7,194.3 L346.8,194.4 L350.8,194.5 L354.8,194.6 L358.8,194.7 L362.8,194.8 L366.9,194.9 L370.9,195.0 L374.9,195.1 L378.9,195.2 L382.9,195.3 L387.0,195.4 L391.0,195.5 L395.0,195.6 L399.0,195.6 L403.1,195.7 L407.1,195.8 L411.1,195.9 L415.1,196.0 L419.1,196.1 L423.2,196.2 L427.2,196.3 L431.2,196.4 L435.3,196.5 L439.3,196.6 L443.3,196.7 L447.4,196.8 L451.4,196.9 L455.4,197.0 L459.5,197.0 L463.5,197.1 L467.6,197.2 L471.6,197.3 L475.7,197.4 L479.7,197.5 L483.8,197.6 L487.8,197.7 L491.9,197.8 L495.9,197.9 L500.0,198.0 L504.0,198.1 L508.0,198.2 L512.0,198.3 L516.1,198.4 L520.2,198.5 L524.3,198.6 L528.4,198.6 L532.6,198.7 L536.7,198.8 L540.9,198.9 L545.1,199.0 L549.3,199.1 L553.5,199.2 L557.7,199.3 L561.9,199.4 L566.1,199.5 L570.4,199.6 L574.6,199.6 L578.8,199.7 L583.1,199.8 L587.3,199.9 L591.5,200.0 L595.7,200.1 L599.9,200.2 L604.1,200.3 L608.3,200.4 L612.4,200.5 L616.6,200.6 L620.7,200.7 L624.8,200.8 L628.9,200.9 L632.9,201.0 L637.0,201.0 L641.0,201.1 L644.9,201.2 L648.9,201.3 L652.8,201.4 L656.7,201.5 L660.5,201.6 L664.3,201.7 L668.1,201.8 L671.8,201.9 L675.5,202.0 L679.2,202.2 L682.8,202.3 L686.3,202.4 L689.8,202.5 L693.3,202.6 L696.7,202.7 L700.0,202.8 L704.6,203.0 L709.2,203.1 L713.6,203.3 L717.9,203.4 L722.2,203.6 L726.4,203.7 L730.5,203.9 L734.5,204.1 L738.5,204.2 L742.5,204.4 L746.4,204.6 L750.2,204.7 L754.1,204.9 L757.9,205.1 L761.7,205.2 L765.4,205.4 L769.2,205.6 L773.0,205.8 L776.8,205.9 L780.6,206.1 L784.4,206.3 L788.2,206.5 L792.1,206.7 L796.0,206.9 L800.0,207.1 L804.0,207.3 L808.0,207.5 L812.0,207.7 L816.0,207.9 L820.0,208.1 L824.0,208.3 L828.0,208.5 L832.0,208.7 L836.0,208.9 L840.0,209.1 L844.0,209.3 L848.0,209.5 L852.0,209.7 L856.0,210.0 L860.0,210.2 L864.0,210.4 L868.0,210.7 L872.0,210.9 L876.0,211.2 L880.0,211.5 L884.0,211.8 L888.0,212.0 L892.0,212.4 L896.0,212.7 L900.0,213.0 L904.0,213.3 L908.0,213.7 L912.0,214.0 L916.0,214.4 L920.0,214.7 L924.0,215.1 L928.0,215.5 L932.0,215.8 L936.0,216.2 L940.0,216.6 L944.1,217.0 L948.1,217.4 L952.1,217.8 L956.1,218.3 L960.1,218.7 L964.1,219.2 L968.1,219.6 L972.1,220.1 L976.1,220.6 L980.0,221.2 L984.0,221.7 L988.0,222.2 L992.0,222.8 L996.0,223.4 L1000.0,224.0 L1004.0,224.6 L1008.1,225.3 L1012.3,226.0 L1016.4,226.7 L1020.6,227.5 L1024.8,228.3 L1029.0,229.1 L1033.3,229.9 L1037.5,230.7 L1041.7,231.5 L1045.9,232.4 L1050.1,233.2 L1054.3,234.1 L1058.4,235.0 L1062.5,235.8 L1066.6,236.7 L1070.6,237.6 L1074.5,238.4 L1078.4,239.3 L1082.2,240.1 L1086.0,240.9 L1089.6,241.7 L1093.2,242.5 L1096.6,243.3 L1100.0,244.0 L1104.8,245.0 L1109.5,246.0 L1114.1,247.0 L1118.5,247.9 L1122.8,248.9 L1127.0,249.8 L1131.0,250.7 L1135.0,251.7 L1138.9,252.7 L1142.7,253.7 L1146.4,254.8 L1150.0,256.0 L1154.2,257.5 L1158.2,259.2 L1162.1,260.9 L1165.8,262.6 L1169.4,264.4 L1173.0,266.1 L1176.5,267.7 L1180.0,269.3 L1184.1,271.0 L1188.0,272.6 L1191.9,274.1 L1195.7,275.6 L1199.5,277.2 L1203.4,278.7 L1207.3,280.2 L1211.3,281.7 L1215.2,283.2 L1219.1,284.8 L1223.0,286.4 L1226.9,288.1 L1230.8,290.0 L1234.7,292.0 L1238.6,294.1 L1242.5,296.2 L1246.4,298.3 L1250.3,300.4 L1254.3,302.5 L1258.4,304.6 L1262.6,306.7 L1266.6,308.8 L1270.4,310.8 L1273.8,312.7 L1278.0,315.1 L1281.6,317.4 L1285.5,319.8 L1289.5,322.2 L1293.7,324.9 L1297.8,327.6 L1301.3,330.3 L1305.2,334.7 L1308.7,338.9 L1312.8,342.1 L1316.9,345.4 L1319.6,348.5 L1322.2,351.9 L1325.1,355.3 L1328.0,358.3 L1331.1,361.4 L1334.3,364.5 L1337.5,367.6 L1340.7,370.8 L1343.9,374.2 L1346.9,377.5 L1349.8,380.7 L1352.7,384.4 L1355.4,388.0 L1358.0,391.4 L1361.4,395.0 L1364.5,398.8 L1366.1,402.4 L1367.3,406.4 L1368.6,410.3 L1370.9,415.1 L1373.1,420.0 L1374.6,424.5 L1376.0,429.3 L1377.3,434.1 L1378.6,438.8 L1379.7,443.4 L1380.8,448.1 L1381.7,452.8 L1382.5,457.5 L1383.3,462.2 L1384.1,466.9 L1384.9,471.5 L1385.7,476.2 L1386.3,480.9 L1386.9,485.6 L1387.5,490.3 L1388.1,495.0 L1388.7,499.7 L1389.3,504.4 L1389.9,509.1 L1390.4,513.7 L1391.0,518.4 L1391.7,522.8 L1392.4,527.3 L1393.1,532.5 L1393.5,535.9 L1393.9,539.6 L1394.3,543.7 L1394.6,547.9 L1395.0,552.4 L1395.4,556.8 L1395.8,561.3 L1396.1,565.7 L1396.5,570.0 L1396.8,574.1 L1397.2,578.3 L1397.5,582.4 L1397.8,586.5 L1398.1,590.7 L1398.4,594.8 L1398.7,598.9 L1399.0,603.0 L1399.3,607.0 L1399.6,611.3 L1399.9,615.6 L1400.2,619.8 L1400.5,624.1 L1400.8,628.3 L1401.1,632.5 L1401.4,636.7 L1401.7,641.0 L1402.0,645.3 L1402.4,649.6 L1402.7,653.8 L1403.1,658.1 L1403.4,662.4 L1403.8,666.9 L1404.1,671.4 L1404.4,676.2 L1404.6,679.9 L1404.8,683.8 L1404.9,687.7 L1405.1,691.7 L1405.2,695.8 L1405.4,700.0 L1405.5,704.2 L1405.6,708.4 L1405.8,712.7 L1405.9,717.0 L1406.0,721.3 L1406.2,725.7 L1406.4,730.0 L1406.6,733.9 L1406.8,737.9 L1407.0,742.0 L1407.2,746.1 L1407.4,750.2 L1407.6,754.4 L1407.9,758.6 L1408.1,762.8 L1408.3,767.0 L1408.6,771.2 L1408.8,775.3 L1409.0,779.5 L1409.3,783.6 L1409.5,787.6 L1409.7,791.6 L1409.9,795.5 L1410.1,799.7 L1410.3,803.9 L1410.5,808.1 L1410.7,812.2 L1410.9,816.2 L1411.1,820.3 L1411.3,824.3 L1411.5,828.3 L1411.7,832.2 L1411.9,836.2 L1412.1,840.2 L1412.3,844.3 L1412.5,848.3 L1412.7,852.4 L1412.9,856.4 L1413.1,860.5 L1413.3,864.5 L1413.5,868.6 L1413.8,872.6 L1414.0,876.7 L1414.2,880.7 L1414.4,884.8 L1414.6,888.8 L1414.8,892.9 L1415.0,896.9 L1415.2,901.0 L1415.4,905.1 L1415.6,909.3 L1415.8,913.6 L1416.0,917.8 L1416.2,922.1 L1416.3,926.4 L1416.5,930.7 L1416.7,934.8 L1416.9,938.9 L1417.0,942.9 L1417.2,946.7 L1417.4,950.3 L1417.5,953.8 L1417.7,958.5 L1417.8,962.7 L1418.0,966.5 L1418.1,970.5 L1418.3,974.9 L1418.5,980.0 L1418.6,983.0 L1418.8,986.2 L1418.9,989.7 L1419.0,993.3 L1419.2,997.1 L1419.4,1001.1 L1419.5,1005.2 L1419.7,1009.4 L1419.9,1013.7 L1420.1,1018.1 L1420.3,1022.5 L1420.5,1026.9 L1420.6,1031.3 L1420.8,1035.8 L1421.0,1040.1 L1421.2,1044.4 L1421.4,1048.7 L1421.6,1052.8 L1421.8,1056.8 L1422.0,1060.7 L1422.2,1064.4 L1422.4,1068.8 L1422.7,1073.0 L1422.9,1077.1 L1423.2,1081.1 L1423.4,1085.1 L1423.6,1089.0 L1423.9,1092.9 L1424.1,1096.7 L1424.4,1100.6 L1424.6,1104.5 L1424.9,1108.4 L1425.1,1112.4 L1425.4,1116.5 L1425.6,1120.7 L1425.8,1124.6 L1426.0,1128.6 L1426.2,1132.6 L1426.4,1136.7 L1426.7,1140.8 L1426.9,1144.9 L1427.1,1149.1 L1427.3,1153.3 L1427.5,1157.5 L1427.7,1161.7 L1427.9,1165.9 L1428.1,1170.1 L1428.3,1174.3 L1428.5,1178.5 L1428.8,1182.7 L1429.0,1186.9 L1429.2,1191.0 L1429.4,1195.1 L1429.7,1199.3 L1429.9,1203.4 L1430.1,1207.5 L1430.3,1211.7 L1430.6,1215.8 L1430.8,1220.0 L1431.0,1224.1 L1431.3,1228.2 L1431.5,1232.4 L1431.8,1236.5 L1432.0,1240.6 L1432.3,1244.8 L1432.6,1248.9 L1432.8,1253.0 L1433.1,1257.2 L1433.4,1261.3 L1433.7,1265.5 L1434.0,1269.7 L1434.3,1274.1 L1434.7,1278.4 L1435.0,1282.8 L1435.4,1287.2 L1435.7,1291.7 L1436.1,1296.0 L1436.4,1300.4 L1436.8,1304.7 L1437.1,1308.9 L1437.5,1313.0 L1437.8,1317.0 L1438.2,1320.9 L1438.5,1324.6 L1438.8,1328.2 L1439.1,1331.6 L1439.6,1336.8 L1440.0,1341.6 L1440.5,1346.1 L1440.9,1350.5 L1441.3,1354.7 L1441.7,1358.8 L1442.1,1362.9 L1442.5,1367.7 L1442.9,1372.3 L1443.2,1376.8 L1443.6,1381.2 L1444.0,1385.7 L1444.5,1390.3 L1445.0,1394.9 L1445.5,1399.4 L1446.1,1404.0 L1446.7,1408.6 L1447.3,1413.2 L1447.9,1418.0 L1448.6,1422.6 L1449.3,1427.1 L1450.1,1431.4 L1451.2,1437.1 L1452.3,1442.5 L1453.9,1446.7 L1455.9,1449.6 L1457.9,1450.9 L1459.6,1449.5 L1461.1,1446.7 L1462.6,1442.5 L1463.8,1437.1 L1465.0,1431.4 L1465.8,1427.1 L1466.6,1422.6 L1467.3,1417.9 L1468.1,1413.2 L1468.8,1408.6 L1469.6,1404.0 L1470.4,1399.4 L1471.2,1394.9 L1471.9,1390.3 L1472.6,1385.7 L1473.2,1381.1 L1473.7,1376.6 L1474.2,1372.0 L1474.7,1367.5 L1475.2,1362.9 L1475.8,1358.5 L1476.4,1354.2 L1477.0,1349.8 L1477.6,1345.2 L1478.2,1340.0 L1478.6,1336.4 L1479.0,1332.6 L1479.5,1328.5 L1479.9,1324.2 L1480.3,1319.8 L1480.8,1315.3 L1481.2,1310.7 L1481.7,1306.1 L1482.1,1301.5 L1482.6,1297.0 L1483.0,1292.6 L1483.4,1288.3 L1483.8,1284.0 L1484.2,1279.6 L1484.6,1275.3 L1485.0,1271.1 L1485.3,1266.8 L1485.7,1262.6 L1486.1,1258.4 L1486.4,1254.1 L1486.8,1249.9 L1487.2,1245.7 L1487.6,1241.4 L1488.0,1237.1 L1488.4,1232.9 L1488.9,1228.6 L1489.3,1224.3 L1489.7,1220.1 L1490.2,1215.8 L1490.6,1211.6 L1491.1,1207.3 L1491.5,1203.0 L1491.9,1198.8 L1492.3,1194.5 L1492.7,1190.2 L1493.1,1186.0 L1493.4,1181.7 L1493.8,1177.4 L1494.1,1173.2 L1494.5,1168.9 L1494.8,1164.7 L1495.2,1160.4 L1495.5,1156.1 L1495.9,1151.9 L1496.3,1147.6 L1496.7,1143.3 L1497.1,1139.1 L1497.5,1134.8 L1498.0,1130.5 L1498.4,1126.3 L1498.8,1122.0 L1499.3,1117.8 L1499.7,1113.5 L1500.1,1109.2 L1500.6,1105.0 L1501.0,1100.7 L1501.4,1096.4 L1501.9,1092.2 L1502.3,1087.9 L1502.7,1083.6 L1503.1,1079.4 L1503.6,1075.1 L1504.0,1070.9 L1504.4,1066.6 L1504.9,1062.3 L1505.3,1058.1 L1505.7,1053.8 L1506.1,1049.5 L1506.6,1045.1 L1507.0,1040.7 L1507.4,1036.2 L1507.8,1031.8 L1508.3,1027.3 L1508.7,1023.0 L1509.1,1018.8 L1509.5,1014.6 L1509.9,1010.7 L1510.3,1006.9 L1510.9,1001.9 L1511.4,997.1 L1512.0,992.5 L1512.5,988.1 L1513.0,983.9 L1513.4,980.0 L1513.8,974.8 L1514.0,970.2 L1514.4,965.5 L1515.0,960.8 L1515.7,956.1 L1516.5,951.4 L1517.4,946.7 L1518.3,942.1 L1519.3,937.4 L1520.4,932.6 L1521.6,927.8 L1522.9,923.3 L1524.5,917.9 L1526.4,912.8 L1528.6,908.0 L1531.0,903.6 L1533.5,900.4 L1535.9,897.3 L1537.7,893.9 L1539.4,890.2 L1541.8,885.7 L1544.0,881.1 L1545.3,877.6 L1546.4,874.1 L1547.5,869.8 L1548.5,865.6 L1549.3,862.8 L1550.0,860.0 L1550.9,854.9 L1551.8,849.4 L1552.9,845.0 L1554.1,840.0 L1554.7,836.6 L1555.2,832.7 L1555.8,828.3 L1556.4,823.6 L1556.9,818.7 L1557.5,813.8 L1558.0,808.9 L1558.5,804.3 L1559.0,799.9 L1559.4,795.4 L1559.9,790.9 L1560.3,786.5 L1560.7,782.0 L1561.2,777.7 L1561.6,773.3 L1562.0,769.1 L1562.4,764.9 L1562.8,760.9 L1563.2,757.0 L1563.6,753.1 L1564.1,749.0 L1564.5,744.7 L1565.0,740.0 L1565.4,736.5 L1565.8,732.8 L1566.2,728.9 L1566.6,724.9 L1567.1,720.7 L1567.5,716.4 L1568.0,712.0 L1568.5,707.6 L1568.9,703.2 L1569.4,698.7 L1569.9,694.3 L1570.4,690.0 L1570.8,685.7 L1571.3,681.5 L1571.7,677.4 L1572.1,673.2 L1572.6,669.0 L1573.0,664.8 L1573.5,660.7 L1573.9,656.5 L1574.4,652.5 L1574.8,648.4 L1575.2,644.4 L1575.7,640.3 L1576.1,636.4 L1576.5,632.4 L1576.8,628.5 L1577.2,624.6 L1577.6,620.5 L1577.9,616.4 L1578.3,612.3 L1578.6,608.3 L1578.9,604.4 L1579.3,600.4 L1579.6,596.5 L1579.8,592.6 L1580.1,588.6 L1580.4,584.7 L1580.7,580.7 L1581.0,576.7 L1581.2,572.7 L1581.4,568.7 L1581.7,564.7 L1581.9,560.7 L1582.1,556.7 L1582.3,552.7 L1582.6,548.7 L1582.8,544.7 L1583.0,540.7 L1583.3,536.7 L1583.6,532.7 L1583.9,528.7 L1584.2,524.7 L1584.5,520.7 L1584.8,516.7 L1585.1,512.7 L1585.5,508.7 L1585.8,504.7 L1586.1,500.7 L1586.5,496.8 L1586.8,492.8 L1587.2,488.5 L1587.5,484.2 L1587.9,479.9 L1588.2,475.7 L1588.6,471.4 L1589.0,467.1 L1589.3,462.9 L1589.7,458.6 L1590.1,454.3 L1590.5,450.0 L1590.9,446.0 L1591.3,442.1 L1591.7,438.1 L1592.1,434.1 L1592.5,430.1 L1592.9,426.1 L1593.3,422.2 L1593.7,418.2 L1594.1,414.2 L1594.6,410.2 L1595.0,406.2 L1595.4,402.2 L1595.9,398.1 L1596.3,394.1 L1596.8,390.0 L1597.3,385.9 L1597.7,381.9 L1598.2,377.8 L1598.7,373.8 L1599.2,369.9 L1599.7,366.0 L1600.2,362.2 L1600.8,357.6 L1601.4,353.1 L1602.0,348.6 L1602.7,344.2 L1603.3,339.9 L1604.0,335.6 L1604.7,331.3 L1605.5,327.1 L1606.4,322.7 L1607.3,318.4 L1608.2,314.1 L1609.2,309.8 L1610.2,305.6 L1611.3,301.4 L1612.5,297.2 L1613.8,292.9 L1615.2,288.5 L1616.6,284.1 L1618.2,279.8 L1619.7,275.5 L1621.4,271.3 L1623.1,267.3 L1624.9,263.2 L1626.8,259.2 L1628.8,255.4 L1630.8,251.6 L1633.0,248.0 L1635.4,244.4 L1638.0,240.9 L1640.7,237.6 L1643.6,234.4 L1646.6,231.2 L1649.8,228.1 L1653.0,225.1 L1656.0,222.4 L1659.1,219.7 L1662.3,217.0 L1665.5,214.5 L1668.9,212.0 L1672.3,209.7 L1675.8,207.5 L1679.3,205.5 L1682.9,203.6 L1686.6,201.9 L1690.4,200.3 L1694.2,198.8 L1698.1,197.4 L1702.2,196.0 L1705.8,194.9 L1709.6,193.8 L1713.5,192.8 L1717.4,191.9 L1721.4,191.1 L1725.4,190.3 L1729.4,189.5 L1733.4,188.8 L1737.4,188.1 L1741.8,187.4 L1746.3,186.7 L1750.8,186.1 L1755.2,185.6 L1759.7,185.1 L1764.1,184.7 L1768.4,184.3 L1772.6,184.0 L1777.1,183.7 L1781.0,183.5 L1784.9,183.4 L1789.1,183.3 L1794.0,183.3 L1800.0,183.2 L1802.2,183.2 L1804.6,183.1 L1807.1,183.1 L1809.8,183.1 L1812.5,183.1 L1815.5,183.0 L1818.5,183.0 L1821.6,183.0 L1824.9,183.0 L1828.2,183.0 L1831.7,183.0 L1835.2,182.9 L1838.9,182.9 L1842.6,182.9 L1846.5,182.9 L1850.4,182.9 L1854.4,182.9 L1858.4,182.9 L1862.5,182.9 L1866.7,182.9 L1871.0,182.9 L1875.3,182.9 L1879.6,182.9 L1884.0,182.9 L1888.5,182.9 L1893.0,182.9 L1897.5,182.9 L1902.0,182.9 L1906.6,182.9 L1911.1,182.9 L1915.7,182.9 L1920.3,182.9 L1924.9,182.9 L1929.6,182.9 L1934.2,183.0 L1938.8,183.0 L1943.4,183.0 L1947.9,183.0 L1952.5,183.0 L1957.0,183.0 L1961.5,183.0 L1966.0,183.0 L1970.4,183.0 L1974.8,183.0 L1979.2,183.0 L1983.4,183.0 L1987.7,183.0 L1991.8,183.0 L1996.0,183.0 L2000.0,183.0 L2004.0,183.0 L2008.0,183.0 L2012.0,183.0 L2016.1,183.0 L2020.1,183.0 L2024.1,183.0 L2028.1,183.0 L2032.1,183.0 L2036.1,183.0 L2040.2,183.0 L2044.2,183.0 L2048.2,183.0 L2052.2,183.0 L2056.2,183.0 L2060.3,183.0 L2064.3,183.0 L2068.3,183.0 L2072.3,183.0 L2076.3,183.0 L2080.4,183.0 L2084.4,183.0 L2088.4,183.0 L2092.4,183.0 L2096.4,183.0 L2100.5,183.0 L2104.5,183.0 L2108.5,183.0 L2112.5,183.0 L2116.6,183.0 L2120.6,183.0 L2124.6,183.0 L2128.6,183.0 L2132.6,183.0 L2136.7,183.0 L2140.7,183.0 L2144.7,183.0 L2148.7,183.0 L2152.7,183.0 L2156.8,183.0 L2160.8,183.0 L2164.8,183.0 L2168.8,183.0 L2172.9,183.0 L2176.9,183.0 L2180.9,183.0 L2184.9,183.0 L2188.9,183.0 L2193.0,183.0 L2197.0,183.0 L2201.0,183.0" fill="none" stroke="#000000" stroke-width="3.2" stroke-linejoin="round"/>
<text transform="translate(256,80.1) scale(1,1.03)" font-family="Liberation Serif, Times New Roman, serif" font-size="65" text-anchor="end">0.0</text>
<text transform="translate(256,270.7) scale(1,1.03)" font-family="Liberation Serif, Times New Roman, serif" font-size="65" text-anchor="end"><tspan font-size="72" dx="1.8" dy="7.8">−</tspan><tspan dy="-7.8">0.5</tspan></text>
<text transform="translate(256,461.4) scale(1,1.03)" font-family="Liberation Serif, Times New Roman, serif" font-size="65" text-anchor="end"><tspan font-size="72" dx="1.8" dy="7.8">−</tspan><tspan dy="-7.8">1.0</tspan></text>
<text transform="translate(256,652.0) scale(1,1.03)" font-family="Liberation Serif, Times New Roman, serif" font-size="65" text-anchor="end"><tspan font-size="72" dx="1.8" dy="7.8">−</tspan><tspan dy="-7.8">1.5</tspan></text>
<text transform="translate(256,842.6) scale(1,1.03)" font-family="Liberation Serif, Times New Roman, serif" font-size="65" text-anchor="end"><tspan font-size="72" dx="1.8" dy="7.8">−</tspan><tspan dy="-7.8">2.0</tspan></text>
<text transform="translate(256,1033.2) scale(1,1.03)" font-family="Liberation Serif, Times New Roman, serif" font-size="65" text-anchor="end"><tspan font-size="72" dx="1.8" dy="7.8">−</tspan><tspan dy="-7.8">2.5</tspan></text>
<text transform="translate(256,1223.8) scale(1,1.03)" font-family="Liberation Serif, Times New Roman, serif" font-size="65" text-anchor="end"><tspan font-size="72" dx="1.8" dy="7.8">−</tspan><tspan dy="-7.8">3.0</tspan></text>
<text transform="translate(256,1414.5) scale(1,1.03)" font-family="Liberation Serif, Times New Roman, serif" font-size="65" text-anchor="end"><tspan font-size="72" dx="1.8" dy="7.8">−</tspan><tspan dy="-7.8">3.5</tspan></text>
<text transform="translate(256,1605.1) scale(1,1.03)" font-family="Liberation Serif, Times New Roman, serif" font-size="65" text-anchor="end"><tspan font-size="72" dx="1.8" dy="7.8">−</tspan><tspan dy="-7.8">4.0</tspan></text>
<text transform="translate(306.5,1689.2) scale(1,1.03)" font-family="Liberation Serif, Times New Roman, serif" font-size="65" text-anchor="middle">30</text>
<text transform="translate(780.0,1689.2) scale(1,1.03)" font-family="Liberation Serif, Times New Roman, serif" font-size="65" text-anchor="middle">40</text>
<text transform="translate(1253.5,1689.2) scale(1,1.03)" font-family="Liberation Serif, Times New Roman, serif" font-size="65" text-anchor="middle">50</text>
<text transform="translate(1727.0,1689.2) scale(1,1.03)" font-family="Liberation Serif, Times New Roman, serif" font-size="65" text-anchor="middle">60</text>
<text transform="translate(2200.5,1689.2) scale(1,1.03)" font-family="Liberation Serif, Times New Roman, serif" font-size="65" text-anchor="middle">70</text>
<text transform="translate(78,1014.4) rotate(-90)" font-family="Liberation Sans, Arial, sans-serif" font-size="79.5">Heat flux, mW/mg</text>
<text x="1165" y="1830" font-family="Liberation Sans, Arial, sans-serif" font-size="79.5">T,</text>
<text x="1258" y="1790.4" font-family="Liberation Sans, Arial, sans-serif" font-size="47.5">0</text>
<text x="1284" y="1830" font-family="Liberation Sans, Arial, sans-serif" font-size="79.5">C</text>
<line x1="400.5" y1="428.6" x2="400.5" y2="325" stroke="#000" stroke-width="3.2"/>
<polygon points="400,290.8 389.7,330.8 411.1,330.8" fill="#000"/>
<text x="424.5" y="397.8" font-family="Liberation Sans, Arial, sans-serif" font-size="79.5">exo</text>
<rect x="1564.4" y="1029" width="797" height="402.5" fill="none" stroke="#000" stroke-width="3.4"/>
<line x1="1574" y1="1083.4" x2="1752" y2="1083.4" stroke="#000000" stroke-width="3.3"/>
<text x="1774" y="1110.4" font-family="Liberation Sans, Arial, sans-serif" font-size="79.5">PCL</text>
<line x1="1574" y1="1181.5" x2="1752" y2="1181.5" stroke="#ff0000" stroke-width="3.3"/>
<text x="1774" y="1208.5" font-family="Liberation Sans, Arial, sans-serif" font-size="79.5">PCL-b-PI-b-PCL</text>
<line x1="1574" y1="1279.6" x2="1752" y2="1279.6" stroke="#0000ff" stroke-width="3.3"/>
<text x="1774" y="1306.6" font-family="Liberation Sans, Arial, sans-serif" font-size="79.5">PI-g-PCL 1</text>
<line x1="1574" y1="1377.7" x2="1752" y2="1377.7" stroke="#64a40e" stroke-width="3.3"/>
<text x="1774" y="1404.7" font-family="Liberation Sans, Arial, sans-serif" font-size="79.5">PI-g-PCL 2</text>
</svg>
</body></html>
